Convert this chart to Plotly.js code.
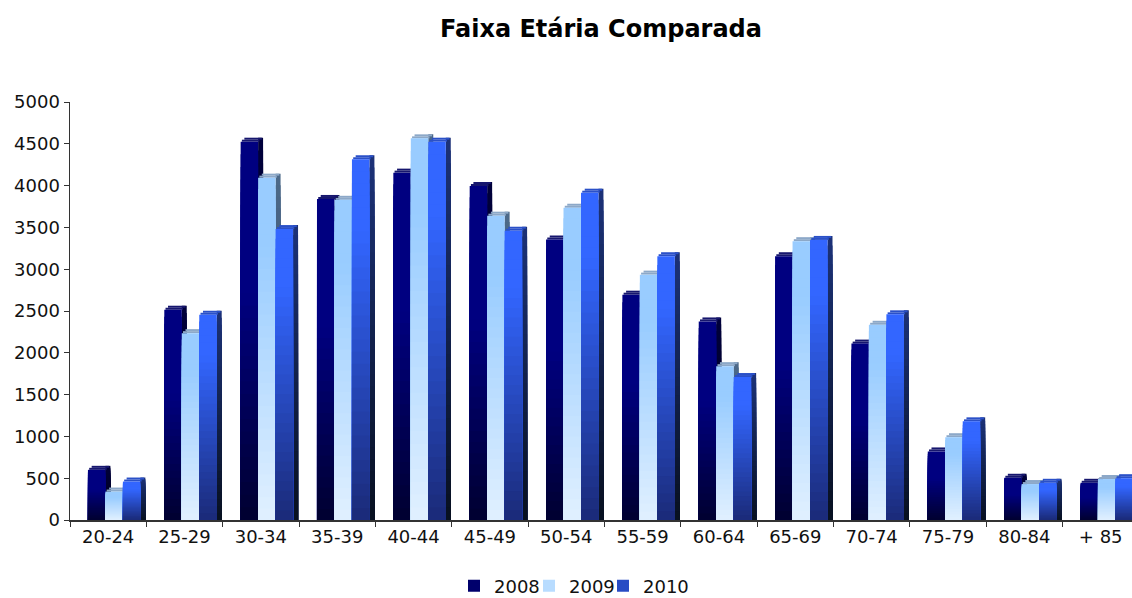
<!DOCTYPE html>
<html>
<head>
<meta charset="utf-8">
<script src="https://cdn.plot.ly/plotly-3.0.1.min.js"></script>
<style>html,body{margin:0;padding:0;background:#fff;}#chart{width:1132px;height:598px;}</style>
</head>
<body>
<div id="chart"></div>
<script>
// ---- Data ----
const categories = ['20-24','25-29','30-34','35-39','40-44','45-49','50-54','55-59','60-64','65-69','70-74','75-79','80-84','+ 85'];
const years = ['2008','2009','2010'];
const v2008 = [600, 2515, 4525, 3840, 4155, 3995, 3355, 2695, 2375, 3155, 2110, 820, 505, 445];
const v2009 = [340, 2235, 4095, 3830, 4565, 3640, 3735, 2935, 1840, 3335, 2335, 990, 430, 490];
const v2010 = [460, 2455, 3480, 4315, 4525, 3460, 3915, 3155, 1710, 3350, 2460, 1180, 445, 500];

// ---- Styling ----
const styles = [
  {front:['#000030','#000080'], frontK:0.6, side:['#000010','#00003c'], top:'#16166e'},
  {front:['#e0f0ff','#99ccff'], frontK:0.8, side:['#2a3a55','#4d6a8a'], top:'#8ca8c8'},
  {front:['#1a2a78','#3366ff'], frontK:0.8, side:['#081020','#1c3278'], top:'#2a50c8'}
];
const series = [v2008, v2009, v2010];
const legendIds = ['legend','legend2','legend3'];
const W = 0.229, D = 0.065, H = 48, K = 30;
const offsets = [-0.265, -0.265 + W, -0.265 + 2*W];

function hex(c){return [parseInt(c.slice(1,3),16),parseInt(c.slice(3,5),16),parseInt(c.slice(5,7),16)];}
function mix(a,b,t){const A=hex(a),B=hex(b);return 'rgb('+A.map((x,i)=>Math.round(x+(B[i]-x)*t)).join(',')+')';}

const traces = [];
series.forEach((vals, s) => {
  const st = styles[s], off = offsets[s];
  // side face (gradient, nested)
  for (let j = 0; j < K; j++) {
    const f = (K - j) / K;
    traces.push({type:'bar', x:categories, y:vals.map(v => (v + H) * f),
      offset: off + W, width: D, marker:{color: mix(st.side[0], st.side[1], f - 0.5/K), line:{width:0}},
      showlegend:false, hoverinfo:'skip', legend:legendIds[s]});
  }
  // top face (two slanted slices)
  [0.25, 0.75].forEach((p, i) => {
    traces.push({type:'bar', x:categories, y:vals.map(() => H/2), base: vals.map(v => v + i*H/2),
      offset: off + p*D, width: W, marker:{color: st.top, line:{width:0}},
      showlegend:false, hoverinfo:'skip', legend:legendIds[s]});
  });
  // front face (gradient, nested)
  for (let j = 0; j < K; j++) {
    const f = (K - j) / K;
    const t = Math.min(1, (f - 0.5/K) / st.frontK);
    traces.push({type:'bar', x:categories, y:vals.map(v => v * f),
      offset: off, width: W, marker:{color: mix(st.front[0], st.front[1], t), line:{width:0}},
      name: years[s], showlegend: j === Math.floor(K*0.55), hoverinfo:'skip', legend:legendIds[s]});
  }
});

const font = {family:'"DejaVu Sans", Verdana, sans-serif', size:18, color:'#111'};
function legendAt(px){
  return {orientation:'h', xref:'container', x:px/1132, xanchor:'left', yref:'container', y:1-586/598,
    yanchor:'middle', font:font, bgcolor:'rgba(0,0,0,0)', borderwidth:0};
}
const layout = {
  width:1132, height:598,
  margin:{l:70, r:0, t:102, b:78},
  paper_bgcolor:'#fff', plot_bgcolor:'#fff',
  font: font,
  barmode:'overlay',
  title:{text:'<b>Faixa Etária Comparada</b>', font:{family:font.family, size:24, color:'#000'},
    x:0.5, xref:'paper', xanchor:'center', y:1-29/598, yref:'container', yanchor:'middle'},
  xaxis:{type:'category', range:[-0.5, 13.41], tickson:'boundaries', ticks:'outside', ticklen:5,
    tickcolor:'#333', showline:true, linecolor:'#333', linewidth:1.5, showgrid:false, zeroline:false,
    tickfont:font, fixedrange:true},
  yaxis:{range:[0,5000], dtick:500, ticks:'outside', ticklen:5, tickcolor:'#333',
    showline:true, linecolor:'#333', linewidth:1.5, showgrid:false, zeroline:false,
    tickfont:font, fixedrange:true},
  legend: legendAt(454),
  legend2: legendAt(529),
  legend3: legendAt(603),
  showlegend:true
};
Plotly.newPlot('chart', traces, layout, {displayModeBar:false, staticPlot:true});
</script>
</body>
</html>
